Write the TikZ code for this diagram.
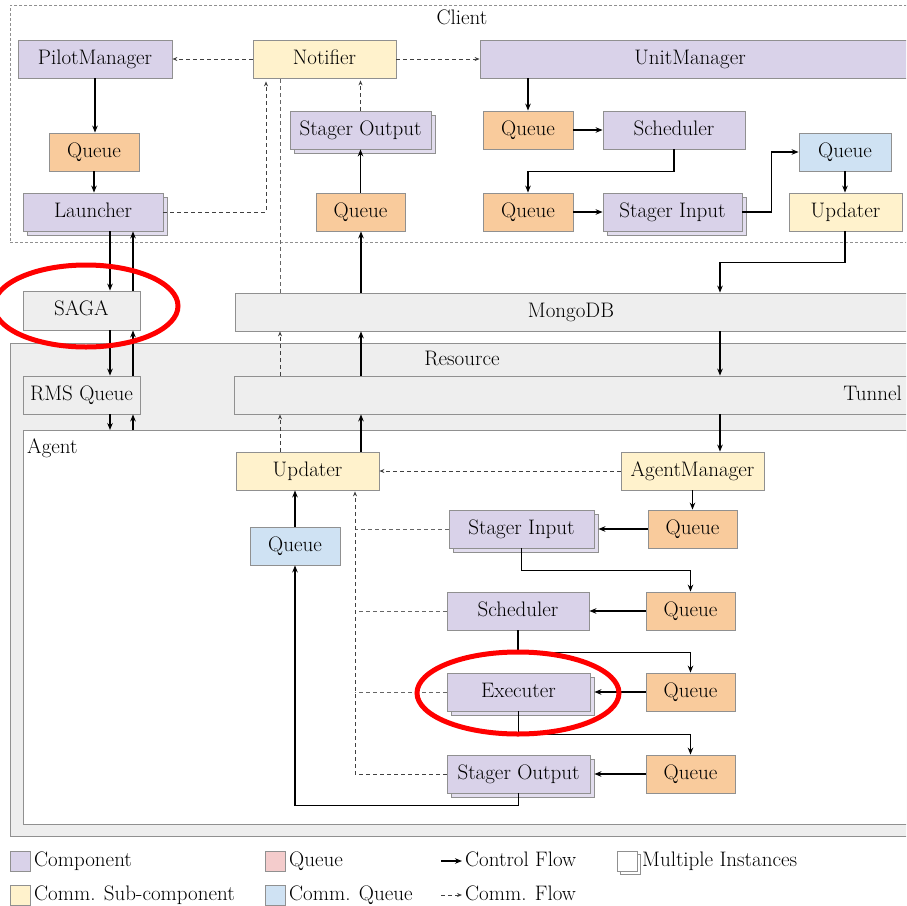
\documentclass[tikz,border=0pt]{standalone}
\usetikzlibrary{arrows.meta,shadows,calc}
\definecolor{compc}{HTML}{D9D2E9}
\definecolor{quec}{HTML}{F9CB9C}
\definecolor{subc}{HTML}{FFF2CC}
\definecolor{cquec}{HTML}{CFE2F3}
\definecolor{gryc}{HTML}{EEEEEE}
\definecolor{pinkc}{HTML}{F4CCCC}
\definecolor{bordc}{HTML}{909090}
\newcommand\dfnt{\fontsize{21}{24}\selectfont}
\begin{document}
\begin{tikzpicture}[x=1pt,y=-1pt,
  bx/.style={draw=bordc, line width=0.8pt, minimum height=38pt, inner sep=0pt,
             font=\dfnt, text height=14.5pt, text depth=4.5pt},
  compbox/.style={bx, fill=compc},
  quebox/.style={bx, fill=quec},
  subbox/.style={bx, fill=subc},
  cquebox/.style={bx, fill=cquec},
  grybox/.style={bx, fill=gryc},
  multi/.style={copy shadow={shadow xshift=4pt, shadow yshift=-4pt, draw=bordc, fill=compc!75}},
  lbl/.style={font=\dfnt, inner sep=0pt, text height=14.5pt, text depth=4.5pt},
  ctl/.style={line width=1.3pt, -{Stealth[length=7pt,width=5.5pt]}},
  ctlline/.style={line width=1.3pt},
  com/.style={line width=0.8pt, draw=black!75, dash pattern=on 4pt off 3pt, -{Stealth[length=5pt,width=4pt]}},
  comline/.style={line width=0.8pt, draw=black!60, dash pattern=on 4pt off 3pt},
  swatch/.style={draw=bordc, line width=0.6pt, minimum width=20pt, minimum height=20pt, inner sep=0pt},
  redring/.style={draw=red, line width=5pt},
]
\useasboundingbox (0,0) rectangle (906,906);
\clip (0,0) rectangle (906,906);

% ---------------- containers ----------------
\node[draw=bordc, line width=0.6pt, dash pattern=on 3pt off 2pt, minimum width=920pt, minimum height=237pt, anchor=north west, inner sep=0pt] (client) at (10,5) {};
\node[lbl] (clienttitle) at (462,19) {Client};

\node[draw=bordc, fill=gryc, line width=0.8pt, minimum width=920pt, minimum height=493pt, anchor=north west, inner sep=0pt] (resource) at (10,343) {};
\node[lbl] (resourcetitle) at (462,360) {Resource};
\node[draw=bordc, fill=white, line width=0.8pt, minimum width=907pt, minimum height=394pt, anchor=north west, inner sep=0pt] (agent) at (23,430) {};
\node[lbl, anchor=west] (agenttitle) at (27,448) {Agent};

% ---------------- client nodes ----------------
\node[compbox, minimum width=154pt] (pm) at (95,59) {PilotManager};
\node[subbox, minimum width=143pt] (notif) at (324.5,59) {Notifier};
\node[compbox, minimum width=450pt] (um) at (705,59) {};
\node[lbl] (umtext) at (690,59) {UnitManager};
\node[quebox, minimum width=90pt] (q1) at (94,152) {Queue};
\node[compbox, multi, minimum width=140pt] (launcher) at (93,212) {Launcher};
\node[compbox, multi, minimum width=141pt] (cso) at (360.5,130) {Stager Output};
\node[quebox, minimum width=89pt] (cq) at (360.5,212) {Queue};
\node[quebox, minimum width=90pt] (cuq1) at (528,130) {Queue};
\node[compbox, minimum width=142pt] (csched) at (674,130) {Scheduler};
\node[quebox, minimum width=90pt] (cuq2) at (528,212) {Queue};
\node[compbox, multi, minimum width=139pt] (csi) at (672.5,212) {Stager Input};
\node[cquebox, minimum width=92pt] (ccq) at (845,152) {Queue};
\node[subbox, minimum width=113pt] (cupd) at (845.5,212) {Updater};

% ---------------- middle ----------------
\node[grybox, minimum width=117pt, minimum height=39pt] (saga) at (81.5,310.5) {SAGA};
\node[grybox, minimum width=700pt] (mongo) at (585,312) {};
\node[lbl] (mongotext) at (571,312) {MongoDB};
\node[grybox, minimum width=117pt] (rms) at (81.5,395) {RMS Queue};
\node[grybox, minimum width=700pt] (tunnel) at (584,395) {};
\node[lbl, anchor=east] (tunneltext) at (902,395) {Tunnel};

% ---------------- agent nodes ----------------
\node[subbox, minimum width=143pt] (aupd) at (307.5,471) {Updater};
\node[subbox, minimum width=143pt] (am) at (692.5,471) {AgentManager};
\node[quebox, minimum width=89pt] (aq1) at (692.5,529) {Queue};
\node[compbox, multi, minimum width=145pt] (asi) at (521.5,529) {Stager Input};
\node[quebox, minimum width=89pt] (aq2) at (690.5,611) {Queue};
\node[compbox, minimum width=142pt] (asched) at (518,611) {Scheduler};
\node[quebox, minimum width=89pt] (aq3) at (690.5,692) {Queue};
\node[compbox, multi, minimum width=143pt] (aexec) at (518.5,692) {Executer};
\node[quebox, minimum width=89pt] (aq4) at (690.5,774) {Queue};
\node[compbox, multi, minimum width=143pt] (aso) at (518.5,774) {Stager Output};
\node[cquebox, minimum width=90pt] (acq) at (295,546) {Queue};

% helper x positions
\coordinate (xa) at (110,0);
\coordinate (xb) at (133,0);
\coordinate (xl) at (266,0);
\coordinate (xd) at (280,0);
\coordinate (xs) at (361,0);
\coordinate (xm) at (720,0);
\coordinate (xv) at (355,0);

% ---------------- client connectors ----------------
\draw[com] (notif.west) -- (pm.east);
\draw[com] (notif.east) -- (um.west);
\draw[ctl] (pm.south) -- (pm.south |- q1.north);
\draw[ctl] (q1.south) -- (q1.south |- launcher.north);
\draw[com] (launcher.east) -| ($(notif.south -| xl)+(0,3)$);
\draw[ctl] (cq.north) -- (cso.south);
\draw[com] (cso.north) -- ($(notif.south -| cso.north)+(0,2)$);
\draw[ctl] (um.south -| cuq1.north) -- (cuq1.north);
\draw[ctl] (cuq1.east) -- (csched.west);
\draw[ctl] (csched.south) -- ++(0,22) -| (cuq2.north);
\draw[ctl] (cuq2.east) -- (csi.west);
\draw[ctl] (csi.east) -- ++(29,0) |- (ccq.west);
\draw[ctl] (ccq.south) -- (ccq.south |- cupd.north);
\draw[ctl] (cupd.south -| ccq.south) -- ++(0,31) -| (mongo.north -| xm);

% ---------------- SAGA column ----------------
\draw[ctl] (launcher.south -| xa) -- (saga.north -| xa);
\draw[ctl] (saga.south -| xa) -- (rms.north -| xa);
\draw[ctl] (rms.south -| xa) -- (agent.north -| xa);
\draw[ctl] (agent.north -| xb) -- (rms.south -| xb);
\draw[ctl] (rms.north -| xb) -- (saga.south -| xb);
\draw[ctl] (saga.north -| xb) -- (launcher.south -| xb);

% ---------------- MongoDB / Tunnel ----------------
\draw[ctl] (mongo.south -| xm) -- (tunnel.north -| xm);
\draw[ctl] (tunnel.south -| xm) -- (am.north -| xm);
\draw[com] (aupd.north -| xd) -- (tunnel.south -| xd);
\draw[com] (tunnel.north -| xd) -- (mongo.south -| xd);
\draw[comline] (mongo.north -| xd) -- (notif.south -| xd);
\draw[ctl] (aupd.north -| xs) -- (tunnel.south -| xs);
\draw[ctl] (tunnel.north -| xs) -- (mongo.south -| xs);
\draw[ctl] (mongo.north -| xs) -- (cq.south -| xs);

% ---------------- agent connectors ----------------
\draw[com] (am.west) -- (aupd.east);
\draw[ctl] (am.south) -- (aq1.north);
\draw[ctl] (aq1.west) -- ($(asi.east)+(4,0)$);
\draw[ctl] (asi.south) -- ++(0,22) -| (aq2.north);
\draw[ctl] (aq2.west) -- (asched.east);
\draw[ctl] (asched.south) -- ++(0,22) -| (aq3.north);
\draw[ctl] (aq3.west) -- ($(aexec.east)+(4,0)$);
\draw[ctl] (aexec.south) -- ++(0,23) -| (aq4.north);
\draw[ctl] (aq4.west) -- ($(aso.east)+(4,0)$);
\draw[ctl] (aso.south) -- ++(0,12) -| (acq.south);
\draw[ctl] (acq.north) -- (acq.north |- aupd.south);
\draw[comline] (asi.west) -- (asi.west -| xv);
\draw[comline] (asched.west) -- (asched.west -| xv);
\draw[comline] (aexec.west) -- (aexec.west -| xv);
\draw[com] (aso.west) -| ($(aupd.south -| xv)+(0,1)$);

% ---------------- highlight rings ----------------
\draw[redring] (86,306) ellipse [x radius=92, y radius=41];
\draw[redring] (518,693) ellipse [x radius=101, y radius=41];

% ---------------- legend ----------------
\node[swatch, fill=compc] (lg1) at (20,861) {};
\node[lbl, anchor=west] (lg1t) at (34,861) {Component};
\node[swatch, fill=pinkc] (lg2) at (275,861) {};
\node[lbl, anchor=west] (lg2t) at (289,861) {Queue};
\coordinate (lc1) at (441,861);
\coordinate (lc2) at (462,861);
\draw[ctl] (lc1) -- (lc2);
\node[lbl, anchor=west] (lg3t) at (465,861) {Control Flow};
\node[swatch, fill=white, copy shadow={shadow xshift=3pt, shadow yshift=-3pt, draw=bordc, fill=white}] (lg4) at (627,861) {};
\node[lbl, anchor=west] (lg4t) at (642,861) {Multiple Instances};
\node[swatch, fill=subc] (lg5) at (20,895) {};
\node[lbl, anchor=west] (lg5t) at (34,895) {Comm. Sub-component};
\node[swatch, fill=cquec] (lg6) at (275,895) {};
\node[lbl, anchor=west] (lg6t) at (289,895) {Comm. Queue};
\coordinate (ld1) at (441,895);
\coordinate (ld2) at (462,895);
\draw[com] (ld1) -- (ld2);
\node[lbl, anchor=west] (lg7t) at (465,895) {Comm. Flow};
\end{tikzpicture}
\end{document}
